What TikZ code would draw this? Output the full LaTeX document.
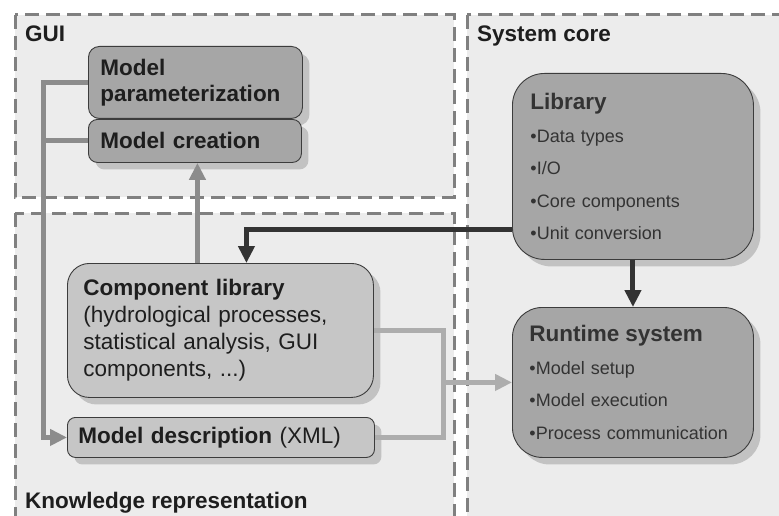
\documentclass[tikz,border=0pt]{standalone}
\usepackage{fontspec}
\setmainfont{Liberation Sans}
\usetikzlibrary{arrows.meta,shadows,calc}

\definecolor{regionfill}{HTML}{ECECEC}
\definecolor{regionline}{HTML}{808080}
\definecolor{darkbox}{HTML}{A6A6A6}
\definecolor{lightbox}{HTML}{C6C6C6}
\definecolor{shadowgray}{HTML}{C2C2C2}
\definecolor{boxline}{HTML}{3C3C3C}
\definecolor{textdark}{HTML}{1E1E1E}
\definecolor{linkdark}{HTML}{333333}
\definecolor{linkmid}{HTML}{8C8C8C}
\definecolor{linklight}{HTML}{ADADAD}

\tikzset{
  region/.style={fill=regionfill, draw=regionline, line width=3pt,
    dash pattern=on 14pt off 7pt},
  regionlabel/.style={anchor=base west, inner sep=0pt, text=textdark,
    font=\fontsize{22.5}{27}\selectfont\bfseries},
  box/.style={draw=boxline, line width=0.9pt, anchor=north west,
    align=left, inner ysep=2pt, text=textdark,
    drop shadow={shadow xshift=7pt, shadow yshift=-7pt,
      fill=shadowgray, opacity=1}},
  link/.style={line width=5pt},
  tip/.style={-{Triangle[width=16pt,length=17pt]}},
}

\begin{document}
\begin{tikzpicture}[x=1pt,y=-1pt]
  \useasboundingbox (0,0) rectangle (779,516);
  \clip (0,0) rectangle (779,516);
  \fill[white] (0,0) rectangle (779,516);

  % layer regions
  \draw[region] (15,15) rectangle (454,197);
  \draw[region] (15,213) rectangle (454,545);
  \draw[region] (467,15) rectangle (800,545);

  \node[regionlabel] (guilabel) at (25,42) {GUI};
  \node[regionlabel] (corelabel) at (477,42) {System core};
  \node[regionlabel] (kreplabel) at (25,508) {Knowledge representation};

  % GUI boxes
  \node[box, fill=darkbox, rounded corners=11pt,
        minimum width=214pt, minimum height=72pt, text width=190pt, inner xsep=12pt,
        font=\fontsize{22.5}{26}\selectfont\bfseries]
        (mp) at (88,46) {Model\\parameterization};
  \node[box, fill=darkbox, rounded corners=9pt,
        minimum width=213pt, minimum height=43pt, text width=189pt, inner xsep=12pt,
        font=\fontsize{22.5}{26}\selectfont\bfseries]
        (mc) at (88,119) {Model creation};

  % knowledge representation boxes
  \node[box, fill=lightbox, rounded corners=22pt,
        minimum width=306pt, minimum height=134pt, text width=274pt, inner xsep=16pt,
        font=\fontsize{22.5}{27}\selectfont]
        (cl) at (67,263) {{\bfseries Component library}\\(hydrological processes,\\statistical analysis, GUI\\components, ...)};
  \node[box, fill=lightbox, rounded corners=8pt,
        minimum width=307pt, minimum height=40pt, text width=285pt, inner xsep=11pt,
        font=\fontsize{22.5}{27}\selectfont]
        (md) at (67,417) {{\bfseries Model description} (XML)};

  % system core boxes
  \node[box, fill=darkbox, rounded corners=32pt, text=linkdark,
        minimum width=241pt, minimum height=186pt, text width=205pt, inner xsep=18pt,
        font=\fontsize{18}{32.5}\selectfont]
        (lib) at (512,73) {{\fontsize{22.5}{32.5}\selectfont\bfseries Library}\\•Data types\\•I/O\\•Core components\\•Unit conversion};
  \node[box, fill=darkbox, rounded corners=30pt, text=linkdark,
        minimum width=241pt, minimum height=150pt, text width=207pt, inner xsep=17pt,
        font=\fontsize{18}{32.5}\selectfont]
        (rt) at (512,307) {{\fontsize{22.5}{32.5}\selectfont\bfseries Runtime system}\\•Model setup\\•Model execution\\•Process communication};

  % connectors
  \coordinate (lx) at (43,0);
  \coordinate (rx) at (443,0);

  \draw[link, linkmid] (mc.west) -- (lx |- mc.west);
  \draw[link, linkmid, tip] (mp.west) -| (lx |- md.west) -- (md.west);

  \draw[link, linkmid, tip] ([xshift=-23pt]cl.north) -- ([xshift=-23pt]cl.north |- mc.south);

  \draw[link, linklight] (cl.east) -| (rx |- md.east) -- (md.east);
  \draw[link, linklight, tip] (rx |- rt.west) -- (rt.west);

  \draw[link, linkdark, tip] ([yshift=-63pt]lib.west) -| ([xshift=26pt]cl.north);
  \draw[link, linkdark, tip] (lib.south) -- (rt.north);
\end{tikzpicture}
\end{document}
